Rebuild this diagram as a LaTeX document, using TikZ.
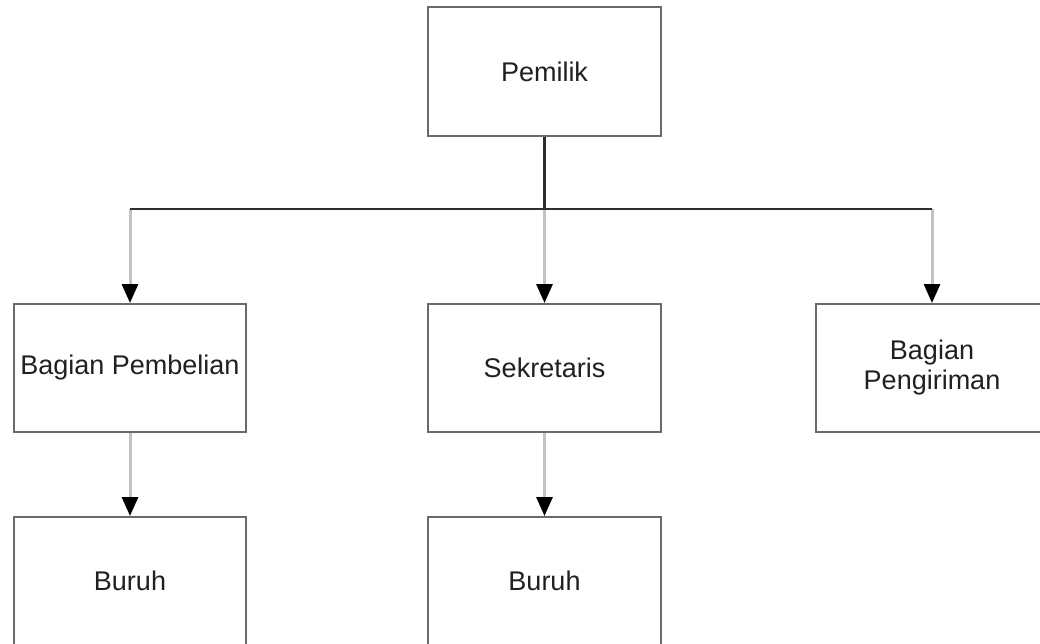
\documentclass[tikz,border=0pt]{standalone}
\usepackage{fontspec}
\setmainfont{Liberation Sans}
\usetikzlibrary{arrows.meta}
\definecolor{boxline}{HTML}{6A6A6A}
\definecolor{dropline}{HTML}{C2C2C2}
\definecolor{trunk}{HTML}{2E2E2E}
\definecolor{txt}{HTML}{202020}
\tikzset{
  orgbox/.style={draw=boxline, line width=2pt, fill=white, rectangle,
    minimum width=232pt, minimum height=128pt, inner sep=0pt,
    align=center, text=txt, font=\fontsize{27}{30}\selectfont},
  droparrow/.style={draw=dropline, line width=3pt,
    -{Triangle[width=16pt,length=19pt,color=black]}, shorten >=0pt},
  trunkline/.style={draw=trunk, line width=3pt},
  busline/.style={draw=trunk, line width=2pt}
}
\begin{document}
\begin{tikzpicture}[x=1pt,y=-1pt]
\useasboundingbox (0,0) rectangle (1040,643);
\clip (0,0) rectangle (1040,643);
\fill[white] (0,0) rectangle (1040,643);
\node[orgbox, minimum width=233pt, minimum height=129pt] (pem) at (544.5,71.5) {Pemilik};
\node[orgbox] (pemb) at (130,368) {Bagian Pembelian};
\node[orgbox, minimum width=233pt] (sek) at (544.5,368) {Sekretaris};
\node[orgbox] (peng) at (932,368) {Bagian\\Pengiriman};
\node[orgbox] (bur1) at (130,581) {Buruh};
\node[orgbox, minimum width=233pt] (bur2) at (544.5,581) {Buruh};
\coordinate (jc) at (544.5,209);
\coordinate (jl) at (130,209);
\coordinate (jr) at (932,209);
\draw[droparrow] (jl) -- (pemb.north);
\draw[droparrow] (jc) -- (sek.north);
\draw[droparrow] (jr) -- (peng.north);
\draw[droparrow] (pemb.south) -- (bur1.north);
\draw[droparrow] (sek.south) -- (bur2.north);
\draw[busline] (jl) -- (jr);
\draw[trunkline] (pem.south) -- (jc);
\end{tikzpicture}
\end{document}
